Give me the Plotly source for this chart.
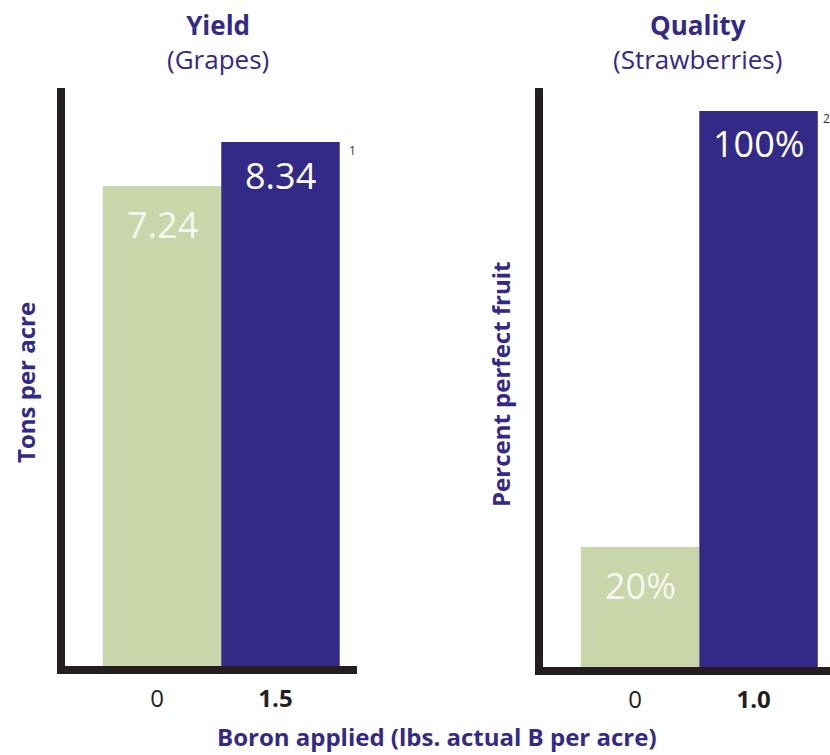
import plotly.graph_objects as go

# ---- data ----
yield_categories = ["0", "<b>1.5</b>"]
yield_values = [7.24, 8.34]
yield_labels = ["7.24", "8.34"]

quality_categories = ["0", "<b>1.0</b>"]
quality_values = [20, 100]
quality_labels = ["20%", "100%"]

bar_colors = ["#c9d6aa", "#332a87"]
label_colors = ["#f6f7f0", "#ffffff"]
label_offsets = [-38, -33]

# ---- layout constants ----
W, H = 830, 755
BLUE = "#332a87"
DARK = "#231f20"
FONT = "Open Sans"

yield_range = [-4.76, 9.69]
quality_range = [-2.0, 104.2]


def px_x(x):
    return x / W


def px_y(y):
    return 1 - y / H


fig = go.Figure()
annotations = []

panels = [
    (yield_values, yield_labels, yield_range, "x", "y"),
    (quality_values, quality_labels, quality_range, "x2", "y2"),
]
for values, labels, rng, xa, ya in panels:
    fig.add_trace(go.Bar(
        x=[0, 1],
        y=[v - rng[0] for v in values],
        base=rng[0],
        width=1.0,
        marker=dict(color=bar_colors, line=dict(width=0)),
        hoverinfo="skip",
        xaxis=xa, yaxis=ya,
    ))
    for i, (v, lab) in enumerate(zip(values, labels)):
        annotations.append(dict(
            text=lab, x=i, y=v, xref=xa, yref=ya,
            xanchor="center", yanchor="middle", yshift=label_offsets[i],
            showarrow=False,
            font=dict(family=FONT, size=36, color=label_colors[i]),
        ))

xcommon = dict(
    showline=True, linewidth=8, linecolor=DARK, showgrid=False, zeroline=False,
    ticks="", tickvals=[0, 1], tickfont=dict(family=FONT, size=24, color=DARK),
    fixedrange=True, ticklabelstandoff=4, ticklabelshift=-5,
)
ycommon = dict(
    showline=True, linewidth=8, linecolor=DARK, showgrid=False, zeroline=False,
    showticklabels=False, ticks="", fixedrange=True,
)

fig.update_layout(
    width=W, height=H,
    margin=dict(l=0, r=0, t=0, b=0),
    paper_bgcolor="white", plot_bgcolor="white",
    showlegend=False,
    font=dict(family=FONT, color=BLUE),
    xaxis=dict(domain=[px_x(65), px_x(357)], range=[-0.819, 1.646],
               ticktext=yield_categories, anchor="y", **xcommon),
    yaxis=dict(domain=[px_y(666), px_y(88)], range=yield_range, anchor="x", **ycommon),
    xaxis2=dict(domain=[px_x(543), 1.0], range=[-0.819, 1.603],
                ticktext=quality_categories, anchor="y2", **xcommon),
    yaxis2=dict(domain=[px_y(667), px_y(88)], range=quality_range, anchor="x2", **ycommon),
)

titles = [
    dict(text="<b>Yield</b><br>(Grapes)", x=px_x(218), y=px_y(42)),
    dict(text="<b>Quality</b><br>(Strawberries)", x=px_x(697), y=px_y(42)),
]
for a in titles:
    a.update(xref="paper", yref="paper", xanchor="center", yanchor="middle",
             showarrow=False, font=dict(family=FONT, size=26, color=BLUE))
annotations += titles

annotations += [
    dict(text="<b>Tons per acre</b>", x=px_x(26), y=px_y(383), textangle=-90,
         xref="paper", yref="paper", xanchor="center", yanchor="middle",
         showarrow=False, font=dict(family=FONT, size=24, color=BLUE)),
    dict(text="<b>Percent perfect fruit</b>", x=px_x(500), y=px_y(384), textangle=-90,
         xref="paper", yref="paper", xanchor="center", yanchor="middle",
         showarrow=False, font=dict(family=FONT, size=24, color=BLUE)),
    dict(text="<b>Boron applied (lbs. actual B per acre)</b>", x=px_x(437), y=0,
         xref="paper", yref="paper", xanchor="center", yanchor="bottom",
         showarrow=False, font=dict(family=FONT, size=24, color=BLUE)),
    dict(text="1", x=px_x(352), y=px_y(151),
         xref="paper", yref="paper", xanchor="center", yanchor="middle",
         showarrow=False, font=dict(family=FONT, size=12, color="#333333")),
    dict(text="2", x=px_x(826), y=px_y(118),
         xref="paper", yref="paper", xanchor="center", yanchor="middle",
         showarrow=False, font=dict(family=FONT, size=12, color="#333333")),
]
fig.update_layout(annotations=annotations)

fig.write_html("out.html")
